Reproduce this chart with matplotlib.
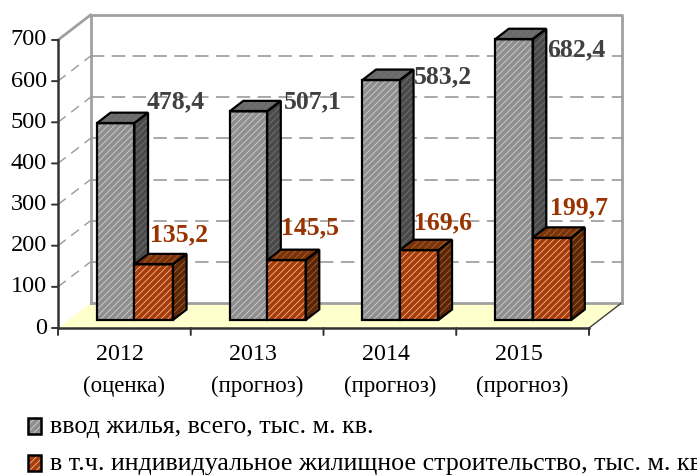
import matplotlib
matplotlib.use('Agg')
import matplotlib.pyplot as plt
from matplotlib.patches import Polygon

plt.rcParams['font.family'] = ['Liberation Serif', 'DejaVu Serif']
plt.rcParams['hatch.linewidth'] = 0.6

lata = ['2012', '2013', '2014', '2015']
opisy = ['(оценка)', '(прогноз)', '(прогноз)', '(прогноз)']
vvod = [478.4, 507.1, 583.2, 682.4]
izhs = [135.2, 145.5, 169.6, 199.7]
etykiety_vvod = ['478,4', '507,1', '583,2', '682,4']
etykiety_izhs = ['135,2', '145,5', '169,6', '199,7']
y_ticks = [0, 100, 200, 300, 400, 500, 600, 700]
legenda = ['ввод жилья, всего, тыс. м. кв.',
           'в т.ч. индивидуальное жилищное строительство, тыс. м. кв.']

W, H = 697, 475
fig = plt.figure(figsize=(W / 100, H / 100), dpi=100)
# osie = przednia plaszczyzna wykresu 3D
ax = fig.add_axes([58 / W, 1 - 328 / H, 531 / W, 288 / H])
ax.set_xlim(0, 4)
ax.set_ylim(0, 700)
ax.axis('off')

# glebokosc 1 = tylna sciana (przesuniecie 32.5 px w prawo, 25 px w gore)
DX = 32.5 / (531 / 4)
DY = 25 / (288 / 700)


def p(x, y, d=0.0):
    return (x + d * DX, y + d * DY)


def poly(pts, **kw):
    kw.setdefault('clip_on', False)
    ax.add_patch(Polygon(pts, closed=True, **kw))


def box(x0, x1, top, d0, d1, front, side, roof, hatch_front, hatch_side, z):
    sciany = [
        ([p(x0, 0, d0), p(x1, 0, d0), p(x1, top, d0), p(x0, top, d0)], front, hatch_front),
        ([p(x1, 0, d0), p(x1, 0, d1), p(x1, top, d1), p(x1, top, d0)], side, hatch_side),
        ([p(x0, top, d0), p(x1, top, d0), p(x1, top, d1), p(x0, top, d1)], roof, hatch_side),
    ]
    for pts, kolor, hatch_kolor in sciany:
        poly(pts, facecolor=kolor, edgecolor=hatch_kolor, hatch='/////', linewidth=0, zorder=z)
        poly(pts, facecolor='none', edgecolor='black', linewidth=1.6, zorder=z + 0.5, joinstyle='miter')


# podloga i sciany
poly([p(0, 0), p(4, 0), p(4, 0, 1), p(0, 0, 1)], facecolor='#ffffcc', edgecolor='none', zorder=1)
szary = '#a0a0a0'
ax.plot(*zip(p(0, 0, 1), p(4, 0, 1)), color=szary, lw=2, clip_on=False, zorder=2)
ax.plot(*zip(p(4, 0), p(4, 0, 1)), color='#404040', lw=1, clip_on=False, zorder=2)
ax.plot(*zip(p(0, 0, 1), p(0, 700, 1), p(4, 700, 1), p(4, 0, 1)), color=szary, lw=2,
        clip_on=False, zorder=2)
ax.plot(*zip(p(0, 700), p(0, 700, 1)), color=szary, lw=2, clip_on=False, zorder=2)

# linie siatki
for v in y_ticks[1:-1]:
    ax.plot(*zip(p(0, v, 1), p(4, v, 1)), color='#999999', lw=1.2, dashes=(8, 4.5),
            clip_on=False, zorder=2)
    ax.plot(*zip(p(0, v), p(0, v, 1)), color='#999999', lw=1.0, dashes=(7, 5),
            clip_on=False, zorder=2)

# slupki
SZER_1 = 37.5 / (531 / 4)
SZER_2 = 38.5 / (531 / 4)
START = 28.5 / (531 / 4)
D0, D1 = 0.32, 0.74
for i in range(len(lata)):
    x0 = i + START
    box(x0, x0 + SZER_1, vvod[i], D0, D1, '#8f8f8f', '#4a4a4a', '#6a6a6a', '#d0d0d0', '#767676', 5)
for i in range(len(lata)):
    x0 = i + START + SZER_1
    box(x0, x0 + SZER_2, izhs[i], D0, D1, '#a83c08', '#5c2606', '#7c3208', '#eab898', '#a06838', 7)

# osie i podzialki
ciemny = '#333333'
ax.plot([0, 0], [0, 700], color=ciemny, lw=1.8, clip_on=False, zorder=9)
ax.plot([0, 4], [0, 0], color=ciemny, lw=1.8, clip_on=False, zorder=4)
for v in y_ticks:
    ax.annotate('', xy=(0, v), xytext=(-6, 0), xycoords='data', textcoords='offset pixels',
                arrowprops=dict(arrowstyle='-', color=ciemny, lw=1.4, shrinkA=0, shrinkB=0))
    ax.annotate(str(v), xy=(0, v), xytext=(-11, 0), textcoords='offset pixels',
                ha='right', va='center', fontsize=17.5, color='black')
for i in range(5):
    ax.annotate('', xy=(i, 0), xytext=(0, -7), textcoords='offset pixels',
                arrowprops=dict(arrowstyle='-', color=ciemny, lw=1.4, shrinkA=0, shrinkB=0))
for i in range(len(lata)):
    ax.annotate(lata[i], xy=(i + 0.5, 0), xytext=(-4, -26), textcoords='offset pixels',
                ha='center', va='center', fontsize=17.3, color='black')
    ax.annotate(opisy[i], xy=(i + 0.5, 0), xytext=(0, -58), textcoords='offset pixels',
                ha='center', va='center', fontsize=16.5, color='black')

# podpisy wartosci (przesuniecia w px od szczytu slupka)
off_vvod = [(51, 29), (56, 18), (53, 11), (54, -3)]
off_izhs = [(55, 38), (53, 40), (53, 35), (56, 38)]
for i in range(len(lata)):
    ax.annotate(etykiety_vvod[i], xy=(i + 0.5, vvod[i]), xytext=off_vvod[i],
                textcoords='offset pixels', ha='center', va='center', fontsize=18.5,
                fontweight='bold', color='#404040', zorder=10)
    ax.annotate(etykiety_izhs[i], xy=(i + 0.5, izhs[i]), xytext=off_izhs[i],
                textcoords='offset pixels', ha='center', va='center', fontsize=18.5,
                fontweight='bold', color='#993300', zorder=10)

# legenda
kolory_leg = [('#8f8f8f', '#d0d0d0'), ('#a83c08', '#eab898')]
for k, y_px in enumerate([425.5, 463]):
    kw = dict(transform=fig.transFigure, clip_on=False)
    pts = [(28 / W, 1 - (y_px - 8) / H), (41 / W, 1 - (y_px - 8) / H),
           (41 / W, 1 - (y_px + 8) / H), (28 / W, 1 - (y_px + 8) / H)]
    fig.add_artist(Polygon(pts, closed=True, facecolor=kolory_leg[k][0], edgecolor=kolory_leg[k][1],
                           hatch='/////', linewidth=0, **kw))
    fig.add_artist(Polygon(pts, closed=True, facecolor='none', edgecolor='black', linewidth=1.8, **kw))
    fig.text(50 / W, 1 - (y_px + 1) / H, legenda[k], ha='left', va='center', fontsize=18.7, color='black')

fig.savefig('out.png', dpi=100, facecolor='white')
